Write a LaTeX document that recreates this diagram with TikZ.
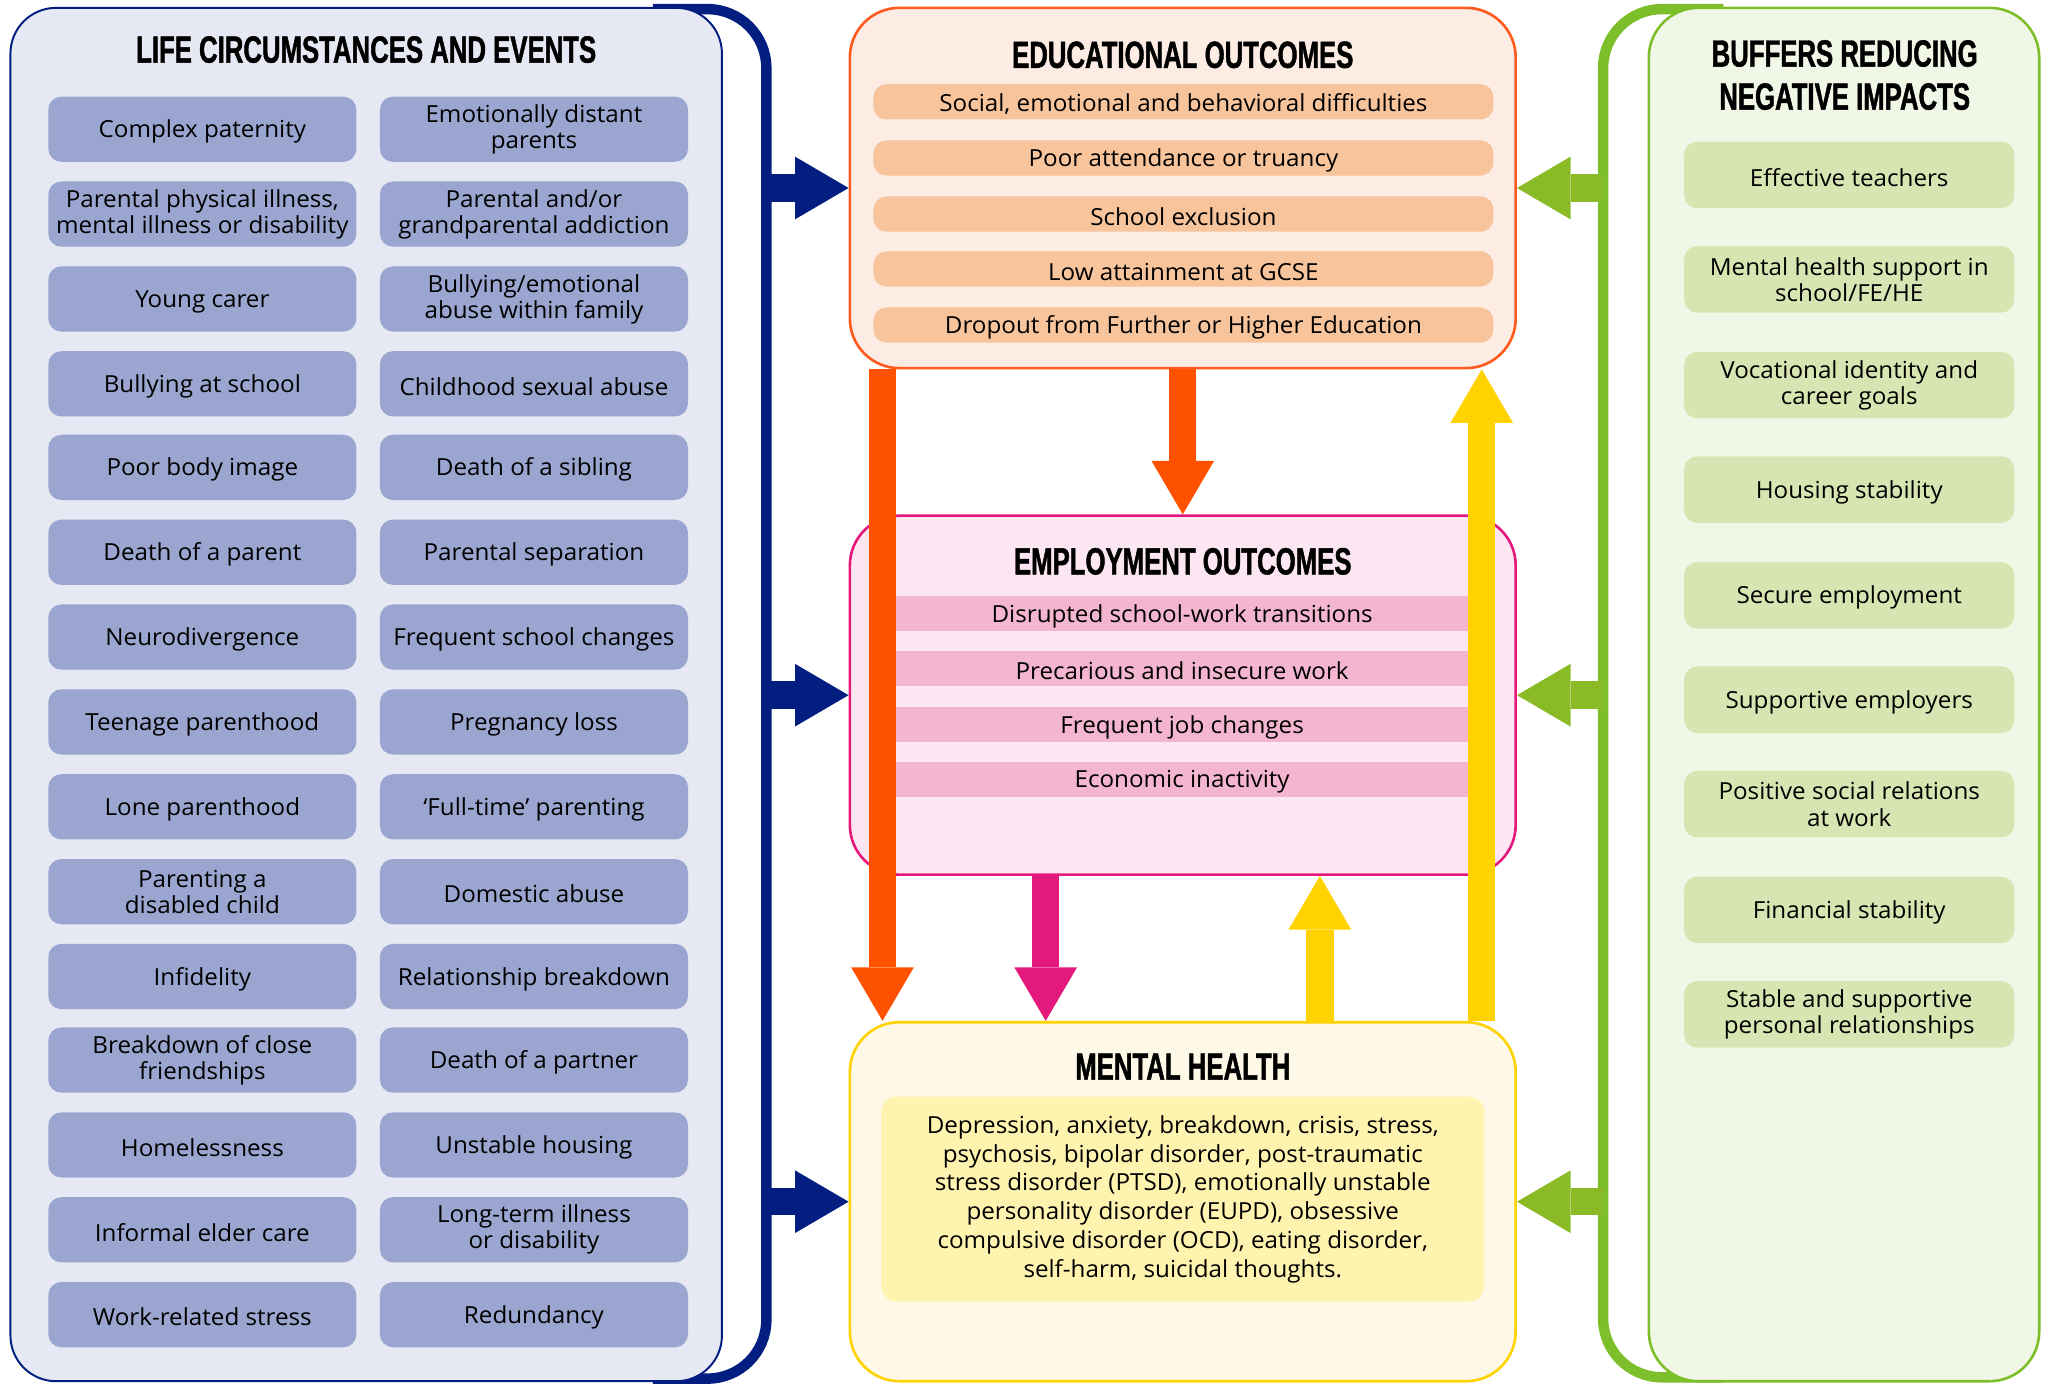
\documentclass[tikz,border=0pt]{standalone}
\usepackage{fontspec}
\setmainfont{Open Sans}[FakeStretch=1.03]
\newfontfamily\headfont{Liberation Sans}[FakeStretch=0.68,FakeBold=1.2]
\usetikzlibrary{arrows.meta}
\definecolor{navy}{HTML}{021E80}
\definecolor{lifefill}{HTML}{E6E8F3}
\definecolor{lifeitem}{HTML}{9AA6CF}
\definecolor{eduor}{HTML}{FF5A1E}
\definecolor{eduarrow}{HTML}{FF5200}
\definecolor{edufill}{HTML}{FDECE4}
\definecolor{eduitem}{HTML}{F8C49C}
\definecolor{emppink}{HTML}{E4197E}
\definecolor{empfill}{HTML}{FBE6F1}
\definecolor{empitem}{HTML}{F4B6CF}
\definecolor{mhyel}{HTML}{FFD200}
\definecolor{mhfill}{HTML}{FEF9E6}
\definecolor{mhitem}{HTML}{FFF3B0}
\definecolor{grn}{HTML}{7DBF2A}
\definecolor{grnarrow}{HTML}{8ABB26}
\definecolor{buffill}{HTML}{F1F7E7}
\definecolor{bufitem}{HTML}{D8E5B3}
\begin{document}
\begin{tikzpicture}[x=1pt,y=-1pt,
  bigbox/.style={rounded corners=38pt, line width=2pt, inner sep=0pt},
  htitle/.style={font=\headfont\bfseries\fontsize{29}{33}\selectfont, align=center, inner sep=0pt},
  body/.style={font=\fontsize{18}{20}\selectfont, align=center, inner sep=0pt},
  itemtext/.style={body, execute at begin node={\rule{0pt}{17.5pt}}},
  litem/.style={itemtext, rounded corners=10pt, fill=lifeitem, minimum width=236pt, minimum height=50pt},
  bitem/.style={itemtext, rounded corners=10pt, fill=bufitem, minimum width=253pt, minimum height=51pt},
  eitem/.style={itemtext, rounded corners=10pt, fill=eduitem, minimum width=475pt, minimum height=27pt},
  pitem/.style={itemtext, fill=empitem, minimum width=439pt, minimum height=27pt},
  bracket/.style={line width=8pt, rounded corners=45pt},
  blockarrow/.style={line width=21pt, -{Triangle[length=41pt, width=48pt, line width=0pt]}}
]
\useasboundingbox (0,0) rectangle (1568,1060);

% brackets
\coordinate (bl) at (587,0);
\coordinate (gl) at (1228,0);
\draw[bracket, navy] (500,7) -- (587,7) -- (587,1056) -- (500,1056);
\draw[bracket, grn] (1320,7) -- (1228,7) -- (1228,1055) -- (1320,1055);

% left panel
\node[rounded corners=35pt, line width=1.5pt, draw=navy, fill=lifefill, minimum width=545pt, minimum height=1052pt, inner sep=0pt] (life) at (280.5,532) {};
\node[htitle] (lifet) at (280.5,38) {LIFE CIRCUMSTANCES AND EVENTS};

\node[litem] (l1) at (155,99) {Complex paternity};
\node[litem] (r1) at (409,99) {Emotionally distant\\parents};
\node[litem] (l2) at (155,164) {Parental physical illness,\\mental illness or disability};
\node[litem] (r2) at (409,164) {Parental and/or\\grandparental addiction};
\node[litem] (l3) at (155,229) {Young carer};
\node[litem] (r3) at (409,229) {Bullying/emotional\\abuse within family};
\node[litem] (l4) at (155,294) {Bullying at school};
\node[litem] (r4) at (409,294) {Childhood sexual abuse};
\node[litem] (l5) at (155,358) {Poor body image};
\node[litem] (r5) at (409,358) {Death of a sibling};
\node[litem] (l6) at (155,423) {Death of a parent};
\node[litem] (r6) at (409,423) {Parental separation};
\node[litem] (l7) at (155,488) {Neurodivergence};
\node[litem] (r7) at (409,488) {Frequent school changes};
\node[litem] (l8) at (155,553) {Teenage parenthood};
\node[litem] (r8) at (409,553) {Pregnancy loss};
\node[litem] (l9) at (155,618) {Lone parenthood};
\node[litem] (r9) at (409,618) {‘Full-time’ parenting};
\node[litem] (l10) at (155,683) {Parenting a\\disabled child};
\node[litem] (r10) at (409,683) {Domestic abuse};
\node[litem] (l11) at (155,748) {Infidelity};
\node[litem] (r11) at (409,748) {Relationship breakdown};
\node[litem] (l12) at (155,812) {Breakdown of close\\friendships};
\node[litem] (r12) at (409,812) {Death of a partner};
\node[litem] (l13) at (155,877) {Homelessness};
\node[litem] (r13) at (409,877) {Unstable housing};
\node[litem] (l14) at (155,942) {Informal elder care};
\node[litem] (r14) at (409,942) {Long-term illness\\or disability};
\node[litem] (l15) at (155,1007) {Work-related stress};
\node[litem] (r15) at (409,1007) {Redundancy};

% right panel
\node[rounded corners=38pt, line width=2pt, draw=grn, fill=buffill, minimum width=299pt, minimum height=1052pt, inner sep=0pt] (buf) at (1412.5,532) {};
\node[htitle, font=\headfont\bfseries\fontsize{29}{33}\selectfont] (buft) at (1413,57.5) {BUFFERS REDUCING\\NEGATIVE IMPACTS};
\node[bitem] (b1) at (1416.5,134) {Effective teachers};
\node[bitem] (b2) at (1416.5,214) {Mental health support in\\school/FE/HE};
\node[bitem] (b3) at (1416.5,295) {Vocational identity and\\career goals};
\node[bitem] (b4) at (1416.5,375) {Housing stability};
\node[bitem] (b5) at (1416.5,456) {Secure employment};
\node[bitem] (b6) at (1416.5,536) {Supportive employers};
\node[bitem] (b7) at (1416.5,616) {Positive social relations\\at work};
\node[bitem] (b8) at (1416.5,697) {Financial stability};
\node[bitem] (b9) at (1416.5,777) {Stable and supportive\\personal relationships};

% educational outcomes
\node[bigbox, draw=eduor, fill=edufill, minimum width=510pt, minimum height=276pt] (edu) at (906,144) {};
\node[htitle] (edut) at (906,42) {EDUCATIONAL OUTCOMES};
\node[eitem] (e1) at (906.5,78) {Social, emotional and behavioral difficulties};
\node[eitem] (e2) at (906.5,121) {Poor attendance or truancy};
\node[eitem] (e3) at (906.5,164) {School exclusion};
\node[eitem] (e4) at (906.5,206) {Low attainment at GCSE};
\node[eitem] (e5) at (906.5,249) {Dropout from Further or Higher Education};

% employment outcomes
\node[bigbox, draw=emppink, fill=empfill, minimum width=510pt, minimum height=275pt] (emp) at (906,532.5) {};
\node[htitle] (empt) at (906,430) {EMPLOYMENT OUTCOMES};
\node[pitem] (p1) at (905.5,470) {Disrupted school-work transitions};
\node[pitem] (p2) at (905.5,512) {Precarious and insecure work};
\node[pitem] (p3) at (905.5,555) {Frequent job changes};
\node[pitem] (p4) at (905.5,597) {Economic inactivity};

% mental health
\node[bigbox, draw=mhyel, fill=mhfill, minimum width=510pt, minimum height=275pt] (mh) at (906,920.5) {};
\node[htitle] (mht) at (906,817) {MENTAL HEALTH};
\node[body, rounded corners=12pt, fill=mhitem, minimum width=462pt, minimum height=157pt, font=\fontsize{18}{22}\selectfont] (mhi) at (906,918.5) {Depression, anxiety, breakdown, crisis, stress,\\psychosis, bipolar disorder, post-traumatic\\stress disorder (PTSD), emotionally unstable\\personality disorder (EUPD), obsessive\\compulsive disorder (OCD), eating disorder,\\self-harm, suicidal thoughts.};

% horizontal arrows
\draw[blockarrow, navy] (bl |- edu.west) -- (edu.west);
\draw[blockarrow, navy] (bl |- emp.west) -- (emp.west);
\draw[blockarrow, navy] (bl |- mh.west) -- (mh.west);
\draw[blockarrow, grnarrow] (gl |- edu.east) -- (edu.east);
\draw[blockarrow, grnarrow] (gl |- emp.east) -- (emp.east);
\draw[blockarrow, grnarrow] (gl |- mh.east) -- (mh.east);

% vertical arrows
\coordinate (xo1) at (676,0);
\coordinate (xo2) at (906,0);
\coordinate (xp) at (801,0);
\coordinate (xy1) at (1011,0);
\coordinate (xy2) at (1135,0);
\draw[blockarrow, eduarrow] (xo1 |- edu.south) -- (xo1 |- mh.north);
\draw[blockarrow, eduarrow] (xo2 |- edu.south) -- (xo2 |- emp.north);
\draw[blockarrow, emppink] (xp |- emp.south) -- (xp |- mh.north);
\draw[blockarrow, mhyel] (xy1 |- mh.north) -- (xy1 |- emp.south);
\draw[blockarrow, mhyel] (xy2 |- mh.north) -- (xy2 |- edu.south);
\end{tikzpicture}
\end{document}
